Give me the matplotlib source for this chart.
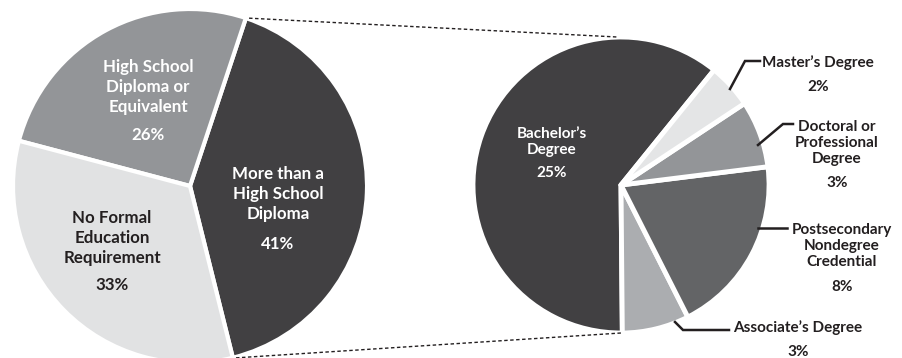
import matplotlib
matplotlib.use("Agg")
import matplotlib.pyplot as plt
import numpy as np

plt.rcParams['font.family'] = ['Lato', 'DejaVu Sans']

# ---- data ----
main_labels = ["More than a\nHigh School\nDiploma", "High School\nDiploma or\nEquivalent",
               "No Formal\nEducation\nRequirement"]
main_values = [41, 26, 33]

detail_labels = ["Bachelor\u2019s\nDegree", "Associate\u2019s Degree",
                 "Postsecondary\nNondegree\nCredential",
                 "Doctoral or\nProfessional\nDegree", "Master\u2019s Degree"]
detail_values = [25, 3, 8, 3, 2]

# ---- style ----
main_colors = ["#414042", "#939598", "#e1e2e3"]
main_text_colors = ["white", "white", "#231f20"]
detail_colors = ["#414042", "#abadb0", "#636466", "#939598", "#e4e5e6"]
DARK = "#231f20"

W, H = 903, 358
fig = plt.figure(figsize=(W / 100, H / 100), dpi=100)
ax = fig.add_axes([0, 0, 1, 1])

def P(x, y):  # pixel -> data
    return x, H - y

# left pie
lc = P(190, 186); lr = 177
lstart = -76
lexpl = [0.018, 0, 0]
ax.pie(main_values, colors=main_colors, startangle=lstart, counterclock=True,
       center=lc, radius=lr, explode=lexpl,
       wedgeprops=dict(edgecolor="white", linewidth=3, joinstyle="round"))

# right pie
rc = P(621, 185); rr = 148
rstart = 51
rexpl = [0.01, 0.05, 0.05, 0.05, 0.05]
ax.pie(detail_values, colors=detail_colors, startangle=rstart, counterclock=True,
       center=rc, radius=rr, explode=rexpl,
       wedgeprops=dict(edgecolor="white", linewidth=3.5, joinstyle="round"))

# connecting dashed lines (from dark wedge corners to right pie top/bottom)
tot = sum(main_values)
a0 = np.deg2rad(lstart)
a1 = np.deg2rad(lstart + 360 * main_values[0] / tot)
amid = (a0 + a1) / 2
off = lexpl[0] * lr
ox, oy = lc[0] + off * np.cos(amid), lc[1] + off * np.sin(amid)
top_l = (ox + lr * np.cos(a1), oy + lr * np.sin(a1))
bot_l = (ox + lr * np.cos(a0), oy + lr * np.sin(a0))
top_r = (rc[0] - 4, rc[1] + rr)
bot_r = (rc[0], rc[1] - rr)
for a, b in [(top_l, top_r), (bot_l, bot_r)]:
    ax.plot([a[0], b[0]], [a[1], b[1]], color=DARK, lw=1, ls=(0, (2.5, 1.8)))

# ---- labels ----
main_pct = [f"{v}%" for v in main_values]
main_pos = [(278, 194, 244), (148, 87, 135), (112, 238, 285)]
for lab, pct, (x, y, yp), tc in zip(main_labels, main_pct, main_pos, main_text_colors):
    ax.text(*P(x, y), lab, ha="center", va="center", color=tc, fontsize=12.2,
            fontweight="bold", linespacing=1.3)
    ax.text(*P(x, yp), pct, ha="center", va="center", color=tc, fontsize=12.2,
            fontweight="bold")

detail_pct = [f"{v}%" for v in detail_values]
detail_pos = [(552, 142, 173), (798, 328, 352), (842, 246, 287), (837, 143, 183), (818, 63, 87)]
detail_tc = ["white", DARK, DARK, DARK, DARK]
for lab, pct, (x, y, yp), tc in zip(detail_labels, detail_pct, detail_pos, detail_tc):
    ax.text(*P(x, y), lab, ha="center", va="center", color=tc, fontsize=11,
            fontweight="bold", linespacing=1.22)
    ax.text(*P(x, yp), pct, ha="center", va="center", color=tc, fontsize=11,
            fontweight="bold")

# leader lines (pixel layout)
leaders = [
    [(730, 89), (745, 61), (760, 61)],     # Master's
    [(758, 145), (783, 124), (793, 124)],  # Doctoral
    [(758, 228), (787, 228)],              # Postsecondary
    [(675, 322), (683, 330), (729, 330)],  # Associate's
]
for pts in leaders:
    xs, ys = zip(*[P(*p) for p in pts])
    ax.plot(xs, ys, color=DARK, lw=1.8, solid_joinstyle="miter")

ax.set_xlim(0, W)
ax.set_ylim(0, H)
ax.set_aspect("auto")
ax.axis("off")
fig.savefig("out.png", dpi=100)
